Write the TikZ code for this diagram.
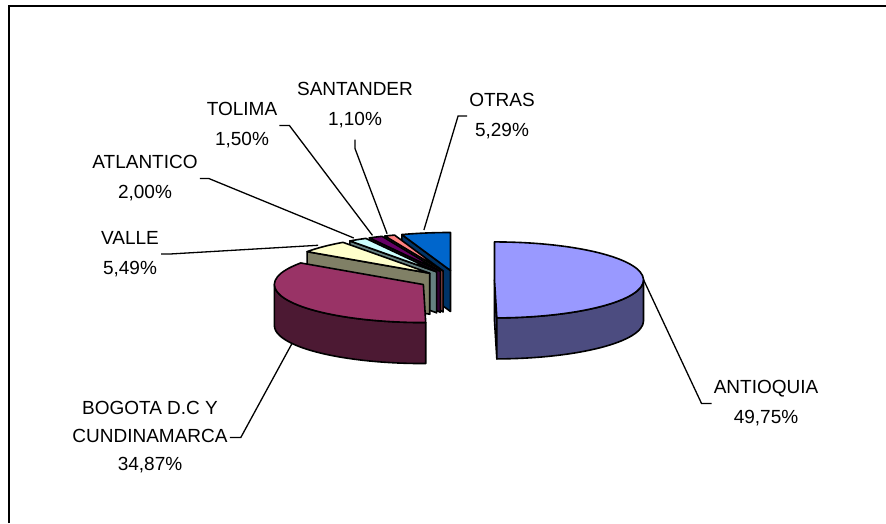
\documentclass[tikz,border=0pt]{standalone}
\usepackage{fontspec}
\setmainfont{Liberation Sans}
\usetikzlibrary{calc}

\definecolor{antcol}{HTML}{9999FF}
\definecolor{bogcol}{HTML}{993366}
\definecolor{valcol}{HTML}{FFFFCC}
\definecolor{atlcol}{HTML}{CCFFFF}
\definecolor{tolcol}{HTML}{660066}
\definecolor{sancol}{HTML}{FF8080}
\definecolor{otrcol}{HTML}{0066CC}

% pie sizes: radii, depth, explosion
\newcommand{\pieRx}{149}
\newcommand{\pieRy}{38}
\newcommand{\pieH}{41}
\newcommand{\pieD}{37.8}
% top of a slice: centre, from, to, colour
\newcommand{\pietop}[4]{\filldraw[face,fill=#4] (#1) -- ++({\pieRx*cos(#2)},{\pieRy*sin(#2)}) arc[start angle=#2,end angle=#3,x radius=\pieRx,y radius=\pieRy] -- cycle;}
% outer wall: centre, from, to, colour
\newcommand{\pieside}[4]{\filldraw[face,fill=#4] ($(#1)+({\pieRx*cos(#2)},{\pieRy*sin(#2)})$) arc[start angle=#2,end angle=#3,x radius=\pieRx,y radius=\pieRy] -- ++(0,-\pieH) arc[start angle=#3,end angle=#2,x radius=\pieRx,y radius=\pieRy] -- cycle;}
% cut face along one radius: centre, angle, colour
\newcommand{\piecut}[3]{\filldraw[face,fill=#3] (#1) -- ++({\pieRx*cos(#2)},{\pieRy*sin(#2)}) -- ++(0,-\pieH) -- ($(#1)+(0,-\pieH)$) -- cycle;}

\begin{document}
\begin{tikzpicture}[x=1pt,y=1pt,
  face/.style={draw=black,line width=1.6pt,line join=round},
  lead/.style={line width=1.3pt},
  lbl/.style={align=center,inner sep=2pt,font=\fontsize{19}{30}\selectfont}]
\useasboundingbox (0,0) rectangle (886,523);
\draw[line width=2pt] (9,0)--(9,516.5)--(886,516.5);

\coordinate (C) at (456.7,243);
\coordinate (cAnt) at ($(C)+({\pieD*cos(0.45)},{\pieD*\pieRy/\pieRx*sin(0.45)})$);
\coordinate (cBog) at ($(C)+({\pieD*cos(208.15)},{\pieD*\pieRy/\pieRx*sin(208.15)})$);
\coordinate (cVal) at ($(C)+({\pieD*cos(135.5)},{\pieD*\pieRy/\pieRx*sin(135.5)})$);
\coordinate (cAtl) at ($(C)+({\pieD*cos(122)},{\pieD*\pieRy/\pieRx*sin(122)})$);
\coordinate (cTol) at ($(C)+({\pieD*cos(115.7)},{\pieD*\pieRy/\pieRx*sin(115.7)})$);
\coordinate (cSan) at ($(C)+({\pieD*cos(111)},{\pieD*\pieRy/\pieRx*sin(111)})$);
\coordinate (cOtr) at ($(C)+({\pieD*cos(99.5)},{\pieD*\pieRy/\pieRx*sin(99.5)})$);

% back slices first
\piecut{cOtr}{109.05}{otrcol!50!black}
\pietop{cOtr}{90}{109.05}{otrcol}
\piecut{cSan}{113.01}{sancol!50!black}
\pietop{cSan}{109.05}{113.01}{sancol}
\piecut{cTol}{118.41}{tolcol!50!black}
\pietop{cTol}{113.01}{118.41}{tolcol}
\piecut{cAtl}{125.61}{atlcol!50!black}
\pietop{cAtl}{118.41}{125.61}{atlcol}
\piecut{cVal}{145.37}{valcol!50!black}
\pietop{cVal}{125.61}{145.37}{valcol}
\pieside{cBog}{180}{270.9}{bogcol!50!black}
\pietop{cBog}{145.37}{270.9}{bogcol}
\piecut{cAnt}{-89.1}{antcol!50!black}
\pieside{cAnt}{-89.1}{0}{antcol!50!black}
\pietop{cAnt}{-89.1}{90}{antcol}

% label ends on the slices
\coordinate (pAnt) at ($(cAnt)+({\pieRx*cos(0.45)},{\pieRy*sin(0.45)})$);
\coordinate (pBog) at ($(cBog)+({\pieRx*cos(208.15)},{\pieRy*sin(208.15)-\pieH})$);
\coordinate (pVal) at ($(cVal)+({1.05*\pieRx*cos(135.5)},{1.05*\pieRy*sin(135.5)})$);
\coordinate (pAtl) at ($(cAtl)+({1.05*\pieRx*cos(122)},{1.05*\pieRy*sin(122)})$);
\coordinate (pTol) at ($(cTol)+({1.05*\pieRx*cos(115.7)},{1.05*\pieRy*sin(115.7)})$);
\coordinate (pSan) at ($(cSan)+({1.05*\pieRx*cos(111)},{1.05*\pieRy*sin(111)})$);
\coordinate (pOtr) at ($(cOtr)+({1.08*\pieRx*cos(99.5)},{1.08*\pieRy*sin(99.5)})$);

\node[lbl] (lAnt) at (766,119.5) {ANTIOQUIA\\49,75\%};
\node[lbl,font=\fontsize{19}{28}\selectfont] (lBog) at (150,85.5) {BOGOTA D.C Y\\CUNDINAMARCA\\34,87\%};
\node[lbl] (lVal) at (130,269) {VALLE\\5,49\%};
\node[lbl] (lAtl) at (145,344.5) {ATLANTICO\\2,00\%};
\node[lbl] (lTol) at (242,397.5) {TOLIMA\\1,50\%};
\node[lbl] (lSan) at (355,417.5) {SANTANDER\\1,10\%};
\node[lbl] (lOtr) at (502,407) {OTRAS\\5,29\%};

\draw[lead] (lAnt.west) -- ++(-10,0) -- (pAnt);
\draw[lead] (lBog.east) -- ++(11,0) -- (pBog);
\draw[lead] (lVal.east) -- ++(9,0) -- (pVal);
\draw[lead] (lAtl.east) -- ++(9,0) -- (pAtl);
\draw[lead] (lTol.east) -- ++(10,0) -- (pTol);
\draw[lead] ([yshift=-9pt]lSan.south) -- ++(0,-9) -- (pSan);
\draw[lead] (lOtr.west) -- ++(-9,0) -- (pOtr);
\end{tikzpicture}
\end{document}
